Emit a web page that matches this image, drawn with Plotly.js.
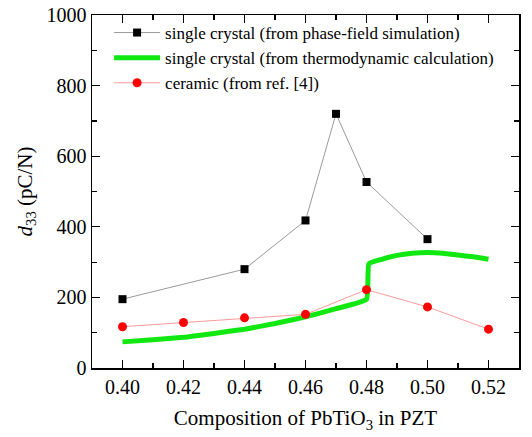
<!DOCTYPE html>
<html>
<head>
<meta charset="utf-8">
<script src="https://cdn.plot.ly/plotly-3.0.1.min.js"></script>
<style>html,body{margin:0;padding:0;background:#fff;}#chart{width:532px;height:437px;}</style>
</head>
<body>
<div id="chart"></div>
<script>
// Data
const simX = [0.40, 0.44, 0.46, 0.47, 0.48, 0.50];
const simY = [195, 280, 418, 720, 527, 365];

const thermoX = [0.40, 0.41, 0.42, 0.43, 0.44, 0.45, 0.46, 0.47, 0.48, 0.4808, 0.485, 0.49, 0.495, 0.50, 0.505, 0.51, 0.515, 0.52];
const thermoY = [74, 80, 87, 98, 110, 126, 145, 168, 195, 295, 308, 319, 325, 327, 325, 320, 315, 308];

const ceramicX = [0.40, 0.42, 0.44, 0.46, 0.48, 0.50, 0.52];
const ceramicY = [117, 129, 142, 152, 222, 173, 110];

const xTicks = [0.40, 0.42, 0.44, 0.46, 0.48, 0.50, 0.52];
const xTickText = ['0.40', '0.42', '0.44', '0.46', '0.48', '0.50', '0.52'];
const yTicks = [0, 200, 400, 600, 800, 1000];

const serif = 'Liberation Serif, Times New Roman, serif';

const traces = [
  {x: simX, y: simY, mode: 'lines+markers', name: 'single crystal (from phase-field simulation)',
   line: {color: '#808080', width: 0.8}, marker: {symbol: 'square', size: 8, color: '#000'}},
  {x: thermoX, y: thermoY, mode: 'lines', name: 'single crystal (from thermodynamic calculation)',
   line: {color: '#11e811', width: 5, shape: 'spline', smoothing: 0.4}},
  {x: ceramicX, y: ceramicY, mode: 'lines+markers', name: 'ceramic (from ref. [4])',
   line: {color: '#ff8080', width: 0.8}, marker: {symbol: 'circle', size: 9, color: '#ff0000'}}
];

const axisCommon = {
  showgrid: false, zeroline: false, showline: true, linecolor: '#000', linewidth: 1.5,
  mirror: 'allticks', ticks: 'inside', ticklen: 8, tickwidth: 1.2, tickcolor: '#000',
  tickfont: {family: serif, size: 20, color: '#000'}
};

const layout = {
  width: 532, height: 437,
  margin: {l: 92, r: 13, t: 15, b: 69},
  paper_bgcolor: '#fff', plot_bgcolor: '#fff',
  showlegend: true,
  legend: {x: 0.04, y: 1.0, xanchor: 'left', yanchor: 'top', bgcolor: 'rgba(0,0,0,0)',
           font: {family: serif, size: 17, color: '#000'}, tracegroupgap: 0, itemwidth: 46},
  xaxis: Object.assign({}, axisCommon, {
    range: [0.39, 0.53], tickvals: xTicks, ticktext: xTickText,
    minor: {ticks: 'inside', ticklen: 5, tickwidth: 1.2, tickcolor: '#000', dtick: 0.01, tick0: 0.39},
    title: {text: 'Composition of PbTiO<sub>3</sub> in PZT', font: {family: serif, size: 21, color: '#000'}, standoff: 14}
  }),
  yaxis: Object.assign({}, axisCommon, {
    range: [0, 1000], tickvals: yTicks,
    minor: {ticks: 'inside', ticklen: 5, tickwidth: 1.2, tickcolor: '#000', dtick: 100, tick0: 0},
    title: {text: '<i>d</i><sub>33</sub> (pC/N)', font: {family: serif, size: 21, color: '#000'}, standoff: 8}
  })
};

Plotly.newPlot('chart', traces, layout, {displayModeBar: false, staticPlot: true});
</script>
</body>
</html>
